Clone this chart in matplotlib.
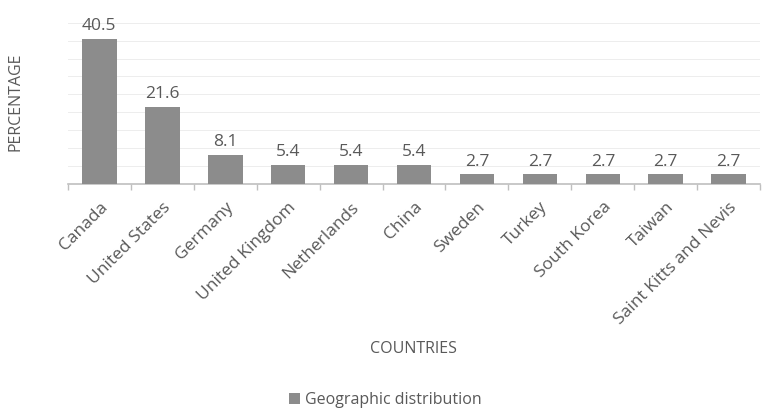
import matplotlib
matplotlib.use("Agg")
import matplotlib.pyplot as plt
import numpy as np

countries = ["Canada", "United States", "Germany", "United Kingdom", "Netherlands",
             "China", "Sweden", "Turkey", "South Korea", "Taiwan", "Saint Kitts and Nevis"]
values = [40.5, 21.6, 8.1, 5.4, 5.4, 5.4, 2.7, 2.7, 2.7, 2.7, 2.7]
series_name = "Geographic distribution"

plt.rcParams['font.family'] = ['Open Sans', 'DejaVu Sans']
txt = '#595959'
fig = plt.figure(figsize=(7.71, 4.15), dpi=100)
ax = fig.add_axes([0.088, 0.557, 0.898, 0.388])
x = np.arange(len(countries))
bars = ax.bar(x, values, width=0.55, color='#8c8c8c', label=series_name, zorder=3)
for xi, v in zip(x, values):
    ax.text(xi, v + 1.3, f"{v}", ha='center', va='bottom', fontsize=12.5, color=txt)
ax.set_xlim(-0.5, len(countries) - 0.5)
ax.set_ylim(0, 45)
ax.set_yticks(np.arange(5, 46, 5))
ax.tick_params(axis='y', length=0, labelleft=False)
ax.grid(axis='y', color='#ededed', linewidth=0.7, zorder=0)
ax.set_xticks(x)
ax.set_xticklabels(countries, rotation=45, ha='right', rotation_mode='anchor', fontsize=12.5, color=txt)
ax.tick_params(axis='x', which='major', length=0, pad=11)
ax.set_xticks(np.arange(-0.5, len(countries), 1), minor=True)
ax.tick_params(axis='x', which='minor', length=4, color='#bfbfbf', width=1)
for s in ['top', 'right', 'left']:
    ax.spines[s].set_visible(False)
ax.spines['bottom'].set_color('#bfbfbf')
ax.spines['bottom'].set_linewidth(1.2)
fig.text(0.02, 0.755, "PERCENTAGE", rotation=90, ha='center', va='center', fontsize=11.5, color=txt)
fig.text(0.536, 0.16, "COUNTRIES", ha='center', va='center', fontsize=11.5, color=txt)
fig.legend(handles=[bars], labels=[series_name], loc='center', bbox_to_anchor=(0.5, 0.035),
           frameon=False, fontsize=11.5, labelcolor=txt, handlelength=0.7, handleheight=0.7,
           handletextpad=0.3)
fig.savefig("out.png", dpi=100)
